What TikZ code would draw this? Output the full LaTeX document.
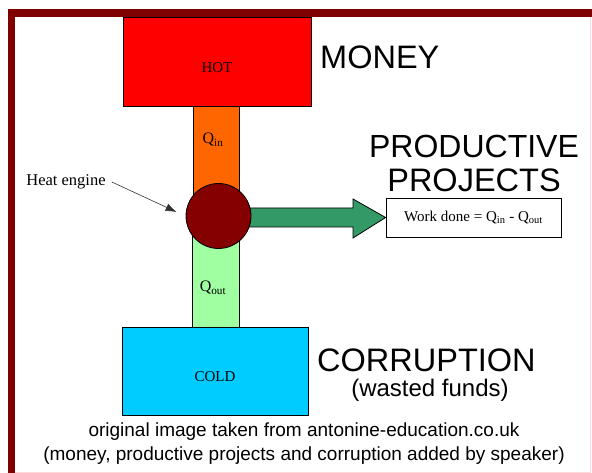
\documentclass[tikz,border=0pt]{standalone}
\usepackage{fontspec}
\setmainfont{Liberation Serif}
\newfontfamily\arialfont{Liberation Sans}
\usetikzlibrary{positioning,arrows.meta}
\definecolor{framered}{HTML}{800000}
\definecolor{hotred}{HTML}{FF0000}
\definecolor{qinorange}{HTML}{FF6600}
\definecolor{qoutgreen}{HTML}{A0FFA0}
\definecolor{coldblue}{HTML}{00CCFF}
\definecolor{enginered}{HTML}{850000}
\definecolor{workgreen}{HTML}{339966}
\begin{document}
\begin{tikzpicture}[x=1pt, y=-1pt, every node/.style={inner sep=0pt},
  block/.style={draw, line width=.8pt, fill=#1},
  big/.style={font=\arialfont\fontsize{32.5}{34}\selectfont},
  serif/.style={font=\fontsize{16}{18}\selectfont}]
\useasboundingbox (0,0) rectangle (592,473);
% frame
\fill[framered] (8,9) rectangle (592,17);
\fill[framered] (8,9) rectangle (15,473);
\draw[red!15, line width=.8pt] (15,472) -- (590,472) -- (590,17);
% reservoirs and columns
\node[block=hotred, minimum width=188pt, minimum height=89pt] (hot) at (217,61.5) {};
\node[block=qinorange, minimum width=46pt, minimum height=110pt] (qin) at (216,161) {};
\node[block=qoutgreen, minimum width=47pt, minimum height=111pt] (qout) at (215.5,271.5) {};
\node[block=coldblue, minimum width=186pt, minimum height=88pt] (cold) at (215,371) {};
\node[serif, font=\fontsize{15}{17}\selectfont] at (217,68) {HOT};
\node[serif, font=\fontsize{15}{17}\selectfont] at (215,377) {COLD};
\node[serif] at (213,140) {Q\textsubscript{in}};
\node[serif] at (213,288) {Q\textsubscript{out}};
% work output
\node[draw, line width=.8pt, fill=white, minimum width=175pt, minimum height=39pt,
  font=\fontsize{15}{17}\selectfont] (work) at (473.5,217.5)
  {Work done = Q\textsubscript{in} - Q\textsubscript{out}};
\draw[line width=.8pt, fill=workgreen] (245,208) -- (353,208) -- (353,199) -- (work.west)
  -- (353,238) -- (353,227) -- (245,227) -- cycle;
\node[circle, draw, line width=.8pt, fill=enginered, minimum size=65pt] (engine) at (218.5,216) {};
\node[serif, font=\fontsize{16.5}{18}\selectfont] (label) at (66,182) {Heat engine};
\draw[-{Latex[length=11pt,width=8pt]}, line width=.6pt, black!80]
  ([xshift=6pt]label.east) -- ([shift={(-9,-4)}]engine.west);
% captions
\node[big, anchor=west] (money) at (320,57) {MONEY};
\node[big, align=center] (productive) at (474,163)
  {\fontsize{32}{34}\selectfont PRODUCTIVE\\PROJECTS};
\node[big, anchor=west] (corruption) at (317,360) {CORRUPTION};
\node[font=\arialfont\fontsize{24}{26}\selectfont] (wasted) at (430,390.5) {(wasted funds)};
\node[font=\arialfont\fontsize{19}{24}\selectfont, align=center] (source) at (304,444)
  {original image taken from antonine-education.co.uk\\
   (money, productive projects and corruption added by speaker)};
\end{tikzpicture}
\end{document}
